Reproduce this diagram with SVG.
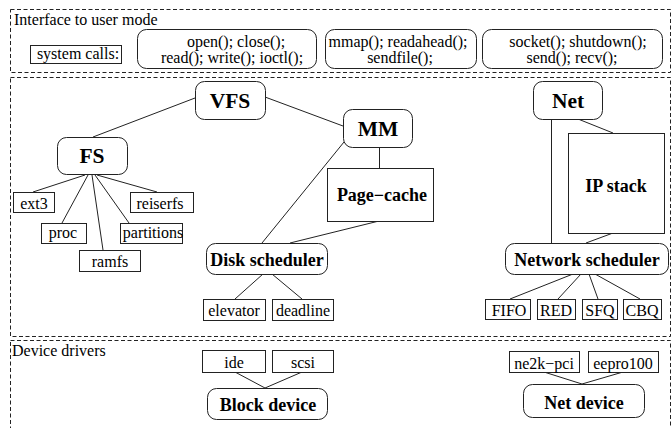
<svg xmlns="http://www.w3.org/2000/svg" width="671" height="428" viewBox="0 0 671 428">
<style>
.frame{fill:none;stroke:#222;stroke-width:1;stroke-dasharray:4 2.5}
.box{fill:#fff;stroke:#222;stroke-width:1}
.edges line{stroke:#222;stroke-width:1}
text{font-family:"Liberation Serif","Times New Roman",serif;font-size:16px;fill:#000}
.c{text-anchor:middle}
.b{font-weight:bold;font-size:18px}
.big{font-weight:bold;font-size:21.5px}
</style>
<rect fill="#fff" width="671" height="428"/>
<g id="frames">
<rect class="frame" x="10.5" y="9.5" width="660" height="63"/>
<rect class="frame" x="10.5" y="77.5" width="660" height="259"/>
<rect class="frame" x="10.5" y="340.5" width="660" height="100"/>
<text x="14" y="25">Interface to user mode</text>
<text x="12" y="356">Device drivers</text>
</g>
<g class="edges" id="connectors">
<line x1="195" y1="98" x2="93" y2="137"/>
<line x1="265" y1="97" x2="343" y2="126"/>
<line x1="379.5" y1="147" x2="379.5" y2="168"/>
<line x1="379" y1="221" x2="290" y2="243"/>
<line x1="344" y1="142" x2="262" y2="243"/>
<line x1="263" y1="274" x2="235" y2="299"/>
<line x1="272" y1="274" x2="302" y2="299"/>
<line x1="85" y1="175" x2="33" y2="192"/>
<line x1="97" y1="175" x2="157" y2="192"/>
<line x1="88" y1="175" x2="62" y2="223"/>
<line x1="95" y1="175" x2="129" y2="223"/>
<line x1="92" y1="175" x2="103" y2="250"/>
<line x1="578" y1="119" x2="613" y2="133"/>
<line x1="551.5" y1="119" x2="551.5" y2="243"/>
<line x1="613" y1="233" x2="586" y2="243"/>
<line x1="573" y1="274" x2="510" y2="299"/>
<line x1="581" y1="274" x2="558" y2="299"/>
<line x1="589" y1="274" x2="598" y2="299"/>
<line x1="595" y1="274" x2="640" y2="299"/>
<line x1="235" y1="372" x2="265" y2="388"/>
<line x1="302" y1="372" x2="265" y2="388"/>
<line x1="544" y1="372" x2="582" y2="384"/>
<line x1="623" y1="372" x2="582" y2="384"/>
</g>
<g id="syscalls"><rect class="box" x="30.5" y="45.5" width="91" height="18"/><text class="c" x="78" y="59">system calls:</text></g>
<g id="calls-file"><rect class="box" x="137.5" y="29.5" width="179" height="39" rx="9"/><text class="c" x="236" y="47">open(); close();</text><text class="c" x="232" y="63">read(); write(); ioctl();</text></g>
<g id="calls-mm"><rect class="box" x="325.5" y="29.5" width="151" height="39" rx="9"/><text class="c" x="398" y="47">mmap(); readahead();</text><text class="c" x="400" y="63">sendfile();</text></g>
<g id="calls-net"><rect class="box" x="482.5" y="29.5" width="180" height="39" rx="9"/><text class="c" x="578" y="47">socket(); shutdown();</text><text class="c" x="572" y="63">send(); recv();</text></g>
<g id="vfs"><rect class="box" x="195.5" y="81.5" width="70" height="38" rx="9"/><text class="c big" x="230" y="108">VFS</text></g>
<g id="fs"><rect class="box" x="57.5" y="137.5" width="70" height="37" rx="9"/><text class="c big" x="92" y="163">FS</text></g>
<g id="mm"><rect class="box" x="343.5" y="109.5" width="69" height="38" rx="9"/><text class="c big" x="378" y="136">MM</text></g>
<g id="pagecache"><rect class="box" x="327.5" y="168.5" width="106" height="53"/><text class="c b" x="382" y="201">Page−cache</text></g>
<g id="disksched"><rect class="box" x="206.5" y="243.5" width="121" height="31" rx="9"/><text class="c b" x="267" y="266">Disk scheduler</text></g>
<g id="elevator"><rect class="box" x="203.5" y="299.5" width="62" height="21"/><text class="c" x="234" y="316">elevator</text></g>
<g id="deadline"><rect class="box" x="272.5" y="299.5" width="61" height="21"/><text class="c" x="303" y="316">deadline</text></g>
<g id="ext3"><rect class="box" x="13.5" y="192.5" width="41" height="20"/><text class="c" x="34" y="209">ext3</text></g>
<g id="reiserfs"><rect class="box" x="130.5" y="192.5" width="63" height="20"/><text class="c" x="160" y="209">reiserfs</text></g>
<g id="proc"><rect class="box" x="41.5" y="223.5" width="45" height="20"/><text class="c" x="63" y="238">proc</text></g>
<g id="partitions"><rect class="box" x="120.5" y="223.5" width="62" height="20"/><text class="c" x="153" y="238">partitions</text></g>
<g id="ramfs"><rect class="box" x="79.5" y="250.5" width="61" height="21"/><text class="c" x="110" y="267">ramfs</text></g>
<g id="net"><rect class="box" x="533.5" y="81.5" width="69" height="38" rx="9"/><text class="c big" x="568" y="108">Net</text></g>
<g id="ipstack"><rect class="box" x="568.5" y="133.5" width="96" height="100"/><text class="c b" x="616" y="192">IP stack</text></g>
<g id="netsched"><rect class="box" x="505.5" y="243.5" width="163" height="31" rx="9"/><text class="c b" x="587" y="266">Network scheduler</text></g>
<g id="fifo"><rect class="box" x="485.5" y="299.5" width="45" height="20"/><text class="c" x="509" y="316">FIFO</text></g>
<g id="red"><rect class="box" x="537.5" y="299.5" width="38" height="20"/><text class="c" x="556" y="316">RED</text></g>
<g id="sfq"><rect class="box" x="582.5" y="299.5" width="35" height="20"/><text class="c" x="600" y="316">SFQ</text></g>
<g id="cbq"><rect class="box" x="623.5" y="299.5" width="38" height="20"/><text class="c" x="642" y="316">CBQ</text></g>
<g id="ide"><rect class="box" x="202.5" y="350.5" width="63" height="22"/><text class="c" x="234" y="368">ide</text></g>
<g id="scsi"><rect class="box" x="272.5" y="350.5" width="61" height="22"/><text class="c" x="303" y="368">scsi</text></g>
<g id="blockdev"><rect class="box" x="207.5" y="388.5" width="120" height="31" rx="9"/><text class="c b" x="268" y="411">Block device</text></g>
<g id="ne2k"><rect class="box" x="509.5" y="351.5" width="70" height="21"/><text class="c" x="544" y="369">ne2k−pci</text></g>
<g id="eepro"><rect class="box" x="588.5" y="351.5" width="70" height="21"/><text class="c" x="623" y="369">eepro100</text></g>
<g id="netdev"><rect class="box" x="523.5" y="384.5" width="121" height="33" rx="9"/><text class="c b" x="584" y="409">Net device</text></g>
</svg>
